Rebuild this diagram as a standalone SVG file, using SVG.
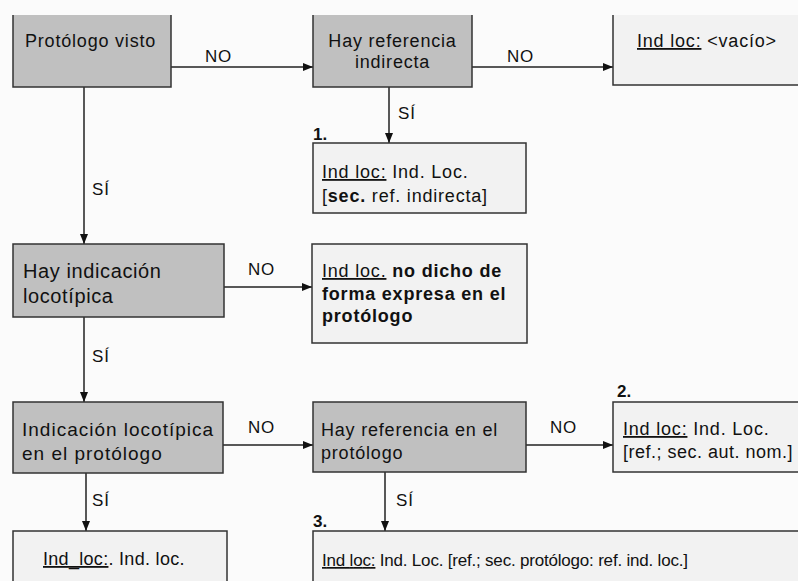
<svg xmlns="http://www.w3.org/2000/svg" width="798" height="581" viewBox="0 0 798 581">
<defs>
<style>
.bg{fill:#fbfbfb}
.gray{fill:#c0c0c0}
.light{fill:#f2f2f2}
.edge{fill:none;stroke:#333;stroke-width:1.5}
.t{font-family:"Liberation Sans",Arial,sans-serif;font-size:18px;fill:#111;letter-spacing:0.8px}
.b{font-weight:bold}
.u{text-decoration:underline}
.lbl{font-family:"Liberation Sans",Arial,sans-serif;font-size:17px;fill:#111;letter-spacing:0.8px}
.num{font-family:"Liberation Sans",Arial,sans-serif;font-size:17px;font-weight:bold;fill:#111}
.conn{fill:none;stroke:#222;stroke-width:1.5}
</style>
<marker id="ah" viewBox="0 0 10 8" refX="10" refY="4" markerWidth="10" markerHeight="8" markerUnits="userSpaceOnUse" orient="auto">
<path d="M0,0 L10,4 L0,8 Z" fill="#111"/>
</marker>
</defs>
<rect class="bg" x="0" y="0" width="798" height="581"/>

<g id="connectors">
<line class="conn" x1="171" y1="67" x2="313" y2="67" marker-end="url(#ah)"/>
<line class="conn" x1="472" y1="67" x2="613" y2="67" marker-end="url(#ah)"/>
<line class="conn" x1="389" y1="87" x2="389" y2="143" marker-end="url(#ah)"/>
<line class="conn" x1="84" y1="87" x2="84" y2="244" marker-end="url(#ah)"/>
<line class="conn" x1="224" y1="287" x2="312" y2="287" marker-end="url(#ah)"/>
<line class="conn" x1="84" y1="317" x2="84" y2="402" marker-end="url(#ah)"/>
<line class="conn" x1="223" y1="445" x2="313" y2="445" marker-end="url(#ah)"/>
<line class="conn" x1="526" y1="445" x2="613" y2="445" marker-end="url(#ah)"/>
<line class="conn" x1="86" y1="473" x2="86" y2="531" marker-end="url(#ah)"/>
<line class="conn" x1="385" y1="472" x2="385" y2="531" marker-end="url(#ah)"/>
<text class="lbl" x="205" y="62">NO</text>
<text class="lbl" x="507" y="62">NO</text>
<text class="lbl" x="398" y="119">SÍ</text>
<text class="lbl" x="92" y="195">SÍ</text>
<text class="lbl" x="248" y="275">NO</text>
<text class="lbl" x="92" y="362">SÍ</text>
<text class="lbl" x="248" y="433">NO</text>
<text class="lbl" x="550" y="433">NO</text>
<text class="lbl" x="92" y="506">SÍ</text>
<text class="lbl" x="396" y="506">SÍ</text>
</g>

<g id="n1">
<rect class="gray" x="13" y="15" width="158" height="72"/>
<path class="edge" d="M13,15 V87 H171 V15"/>
<text class="t" x="25" y="47">Protólogo visto</text>
</g>

<g id="n2">
<rect class="gray" x="313" y="15" width="159" height="72"/>
<path class="edge" d="M313,15 V87 H472 V15"/>
<text class="t" x="392.5" y="47" text-anchor="middle">Hay referencia</text>
<text class="t" x="392.5" y="68" text-anchor="middle">indirecta</text>
</g>

<g id="n3">
<rect class="light" x="613" y="15" width="190" height="70"/>
<path class="edge" d="M613,15 V85 H800"/>
<text class="t" x="637" y="47"><tspan class="u">Ind loc:</tspan> &lt;vacío&gt;</text>
</g>

<g id="n4">
<text class="num" x="313" y="140">1.</text>
<rect class="edge" x="313" y="143" width="213" height="70" style="fill:#f2f2f2"/>
<text class="t" x="322" y="178"><tspan class="u">Ind loc:</tspan> Ind. Loc.</text>
<text class="t" x="322" y="202">[<tspan class="b">sec.</tspan> ref. indirecta]</text>
</g>

<g id="n5">
<rect class="edge" x="13" y="244" width="211" height="73" style="fill:#c0c0c0"/>
<text class="t" x="23" y="278" style="font-size:20px;letter-spacing:0.6px">Hay indicación</text>
<text class="t" x="23" y="303" style="font-size:20px;letter-spacing:0.6px">locotípica</text>
</g>

<g id="n6">
<rect class="edge" x="312" y="244" width="215" height="99" style="fill:#f2f2f2"/>
<text class="t" x="322" y="277"><tspan class="u">Ind loc.</tspan> <tspan class="b">no dicho de</tspan></text>
<text class="t b" x="322" y="300">forma expresa en el</text>
<text class="t b" x="322" y="322">protólogo</text>
</g>

<g id="n7">
<rect class="edge" x="13" y="402" width="210" height="71" style="fill:#c0c0c0"/>
<text class="t" x="22" y="436" style="font-size:19px;letter-spacing:1px">Indicación locotípica</text>
<text class="t" x="22" y="460" style="font-size:19px;letter-spacing:1px">en el protólogo</text>
</g>

<g id="n8">
<rect class="edge" x="313" y="402" width="213" height="70" style="fill:#c0c0c0"/>
<text class="t" x="321" y="436">Hay referencia en el</text>
<text class="t" x="321" y="459">protólogo</text>
</g>

<g id="n9">
<text class="num" x="617" y="397">2.</text>
<rect class="edge" x="613" y="402" width="190" height="70" style="fill:#f2f2f2"/>
<text class="t" x="623" y="435"><tspan class="u">Ind loc:</tspan> Ind. Loc.</text>
<text class="t" x="623" y="458" style="letter-spacing:0.5px">[ref.; sec. aut. nom.]</text>
</g>

<g id="n10">
<rect class="edge" x="13" y="531" width="214" height="70" style="fill:#f2f2f2"/>
<text class="t" x="43" y="565" style="letter-spacing:0.3px"><tspan class="u">Ind_loc:</tspan>. Ind. loc.</text>
</g>

<g id="n11">
<text class="num" x="313" y="527">3.</text>
<rect class="edge" x="313" y="531" width="500" height="70" style="fill:#f2f2f2"/>
<text class="t" x="322" y="566" style="font-size:17px;letter-spacing:0px" textLength="366" lengthAdjust="spacing"><tspan class="u">Ind loc:</tspan> Ind. Loc. [ref.; sec. protólogo: ref. ind. loc.]</text>
</g>
</svg>
